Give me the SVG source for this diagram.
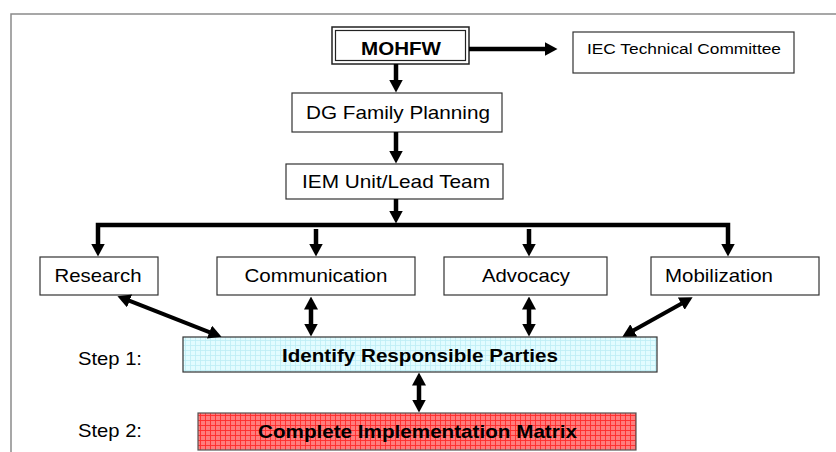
<svg xmlns="http://www.w3.org/2000/svg" width="836" height="452" viewBox="0 0 836 452">
<style>
.box{fill:#fff;stroke:#333;stroke-width:1.2}
.t{font-family:"Liberation Sans",Arial,sans-serif;fill:#000;text-anchor:middle;font-size:18.5px}
.b{font-weight:bold}
.c{fill:none;stroke:#000;stroke-width:4.5;stroke-linejoin:miter}
.d{fill:none;stroke:#000;stroke-width:4}
</style>
<defs>
<marker id="ah" viewBox="0 0 13 14" markerWidth="13" markerHeight="14" refX="0.5" refY="7" orient="auto-start-reverse" markerUnits="userSpaceOnUse">
<path d="M0,0 L13,7 L0,14 z" fill="#000"/>
</marker>
<pattern id="gc" width="5" height="5" patternUnits="userSpaceOnUse">
<rect width="5" height="5" fill="#E2FCFF"/>
<path d="M0,0.5 H5 M0.5,0 V5" stroke="#BDEEF5" stroke-width="0.8"/>
</pattern>
<pattern id="gr" width="5" height="5" patternUnits="userSpaceOnUse">
<rect width="5" height="5" fill="#FF7C7C"/>
<path d="M0,0.5 H5 M0.5,0 V5" stroke="#FF2A2A" stroke-width="0.9"/>
</pattern>
</defs>
<rect width="836" height="452" fill="#fff"/>
<path d="M11,452 V14 H836" fill="none" stroke="#8a8a8a" stroke-width="1.5"/>

<g id="mohfw">
<rect x="332" y="27" width="137" height="37" fill="#fff" stroke="#222" stroke-width="1.5"/>
<rect x="335.5" y="30.5" width="130" height="30" fill="none" stroke="#222" stroke-width="1.2"/>
<text class="t b" x="401" y="55" textLength="80" lengthAdjust="spacingAndGlyphs">MOHFW</text>
</g>
<g id="iec">
<rect class="box" x="573" y="32" width="221" height="41"/>
<text class="t" x="684" y="54" style="font-size:15.5px" textLength="194" lengthAdjust="spacingAndGlyphs">IEC Technical Committee</text>
</g>
<g id="dg">
<rect class="box" x="292" y="93" width="210" height="39"/>
<text class="t" x="398" y="119" textLength="184" lengthAdjust="spacingAndGlyphs">DG Family Planning</text>
</g>
<g id="iem">
<rect class="box" x="286" y="164" width="217" height="35"/>
<text class="t" x="396" y="188" textLength="188" lengthAdjust="spacingAndGlyphs">IEM Unit/Lead Team</text>
</g>
<g id="research">
<rect class="box" x="40" y="257" width="118" height="38"/>
<text class="t" x="98" y="281.5" textLength="87" lengthAdjust="spacingAndGlyphs">Research</text>
</g>
<g id="communication">
<rect class="box" x="217" y="257" width="198" height="38"/>
<text class="t" x="316" y="281.5" textLength="143" lengthAdjust="spacingAndGlyphs">Communication</text>
</g>
<g id="advocacy">
<rect class="box" x="444" y="257" width="163" height="38"/>
<text class="t" x="526" y="281.5" textLength="88" lengthAdjust="spacingAndGlyphs">Advocacy</text>
</g>
<g id="mobilization">
<rect class="box" x="651" y="257" width="168" height="38"/>
<text class="t" x="719" y="281.5" textLength="108" lengthAdjust="spacingAndGlyphs">Mobilization</text>
</g>
<g id="identify">
<rect x="183" y="337" width="474" height="35" fill="url(#gc)" stroke="#333" stroke-width="1.2"/>
<text class="t b" x="420" y="361.5" textLength="276" lengthAdjust="spacingAndGlyphs">Identify Responsible Parties</text>
</g>
<g id="complete">
<rect x="198" y="413" width="438" height="37" fill="url(#gr)" stroke="#555" stroke-width="1.2"/>
<text class="t b" x="417.5" y="438" textLength="319" lengthAdjust="spacingAndGlyphs">Complete Implementation Matrix</text>
</g>
<g id="step1"><text class="t" x="110" y="365" textLength="64" lengthAdjust="spacingAndGlyphs">Step 1:</text></g>
<g id="step2"><text class="t" x="110" y="437" textLength="64" lengthAdjust="spacingAndGlyphs">Step 2:</text></g>

<g id="connectors">
<path class="c" d="M469,49 H545" marker-end="url(#ah)"/>
<path class="c" d="M396,64 V80" marker-end="url(#ah)"/>
<path class="c" d="M396,132 V151" marker-end="url(#ah)"/>
<path class="c" d="M396,199 V211" marker-end="url(#ah)"/>
<path class="c" d="M98,244 V225 H728 V244" marker-start="url(#ah)" marker-end="url(#ah)"/>
<path class="c" d="M316,229 V244" marker-end="url(#ah)"/>
<path class="c" d="M529,229 V244" marker-end="url(#ah)"/>
<path class="d" d="M129.1,300.7 L209.9,332.3" marker-start="url(#ah)" marker-end="url(#ah)"/>
<path class="c" d="M311,309 V324" marker-start="url(#ah)" marker-end="url(#ah)"/>
<path class="c" d="M529,309 V324" marker-start="url(#ah)" marker-end="url(#ah)"/>
<path class="d" d="M681.7,303.4 L633.3,330.6" marker-start="url(#ah)" marker-end="url(#ah)"/>
<path class="c" d="M419,385 V400" marker-start="url(#ah)" marker-end="url(#ah)"/>
</g>
</svg>
